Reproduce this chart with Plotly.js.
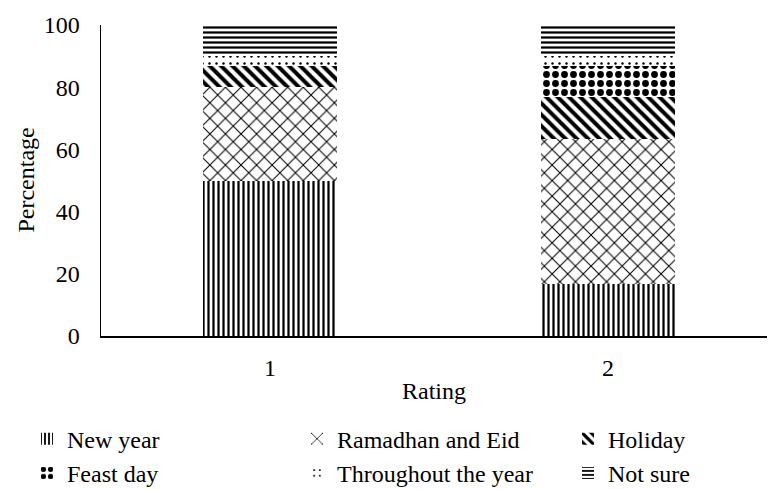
<!DOCTYPE html>
<html>
<head>
<meta charset="utf-8">
<script src="https://cdn.plot.ly/plotly-3.0.1.min.js"></script>
<style>html,body{margin:0;padding:0;background:#fff;overflow:hidden;}#chart{width:768px;height:489px;}</style>
</head>
<body>
<div id="chart"></div>
<script>
const ratings = ['1', '2'];
const newYear = [50, 16.7];
const ramadhanEid = [30, 46.7];
const holiday = [6.7, 13.3];
const feastDay = [0, 10];
const throughoutYear = [3.3, 3.3];
const notSure = [10, 10];

const seriesNames = ['New year', 'Ramadhan and Eid', 'Holiday', 'Feast day', 'Throughout the year', 'Not sure'];
const seriesValues = [newYear, ramadhanEid, holiday, feastDay, throughoutYear, notSure];
const legendIds = ['legend', 'legend2', 'legend3', 'legend', 'legend2', 'legend3'];
const yTitle = 'Percentage';
const xTitle = 'Rating';
const patterns = [
  {shape: '|', size: 5, solidity: 0.45},
  {shape: 'x', size: 11, solidity: 0.18},
  {shape: '\\', size: 8, solidity: 0.5},
  {shape: '.', size: 9, solidity: 0.45},
  {shape: '.', size: 7, solidity: 0.1},
  {shape: '-', size: 5, solidity: 0.45}
];

const FONT = 'Times New Roman, Liberation Serif, DejaVu Serif, serif';
const FS = 24;

const traces = seriesNames.map((name, i) => ({
  type: 'bar',
  name: name,
  x: ratings,
  y: seriesValues[i],
  legend: legendIds[i],
  marker: {
    color: 'white',
    line: {width: 0},
    pattern: Object.assign({fgcolor: 'black', bgcolor: 'white', fillmode: 'replace'}, patterns[i])
  }
}));

function mkLegend(xpx) {
  return {
    orientation: 'v',
    xref: 'container', yref: 'container',
    x: xpx / 768, y: 0.148, xanchor: 'left', yanchor: 'top',
    traceorder: 'normal',
    font: {family: FONT, size: FS},
    itemwidth: 30,
    tracegroupgap: 0,
    bgcolor: 'rgba(0,0,0,0)'
  };
}

const layout = {
  width: 768,
  height: 489,
  margin: {l: 101, r: 1, t: 25, b: 153, autoexpand: false},
  paper_bgcolor: 'white',
  plot_bgcolor: 'white',
  barmode: 'stack',
  bargap: 0.604,
  font: {family: FONT, size: FS, color: 'black'},
  showlegend: true,
  xaxis: {
    type: 'category',
    range: [-0.5, 1.47],
    automargin: false,
    showline: true, linecolor: 'black', linewidth: 1.5,
    showgrid: false, zeroline: false, ticks: '',
    ticklabelstandoff: 10,
    tickfont: {family: FONT, size: FS},
    title: {text: xTitle, font: {family: FONT, size: FS}, standoff: 2}
  },
  yaxis: {
    range: [0, 100],
    tickvals: [0, 20, 40, 60, 80, 100],
    automargin: false,
    showline: true, linecolor: 'black', linewidth: 1.5,
    showgrid: false, zeroline: false, ticks: '',
    ticklabelstandoff: 15,
    tickfont: {family: FONT, size: FS}
  },
  annotations: [{
    text: yTitle,
    xref: 'paper', yref: 'paper',
    x: -0.114, y: 0.5,
    xanchor: 'center', yanchor: 'middle',
    textangle: -90,
    showarrow: false,
    font: {family: FONT, size: FS, color: 'black'}
  }],
  legend: mkLegend(27),
  legend2: mkLegend(297),
  legend3: mkLegend(568)
};

Plotly.newPlot('chart', traces, layout, {staticPlot: true});
</script>
</body>
</html>
